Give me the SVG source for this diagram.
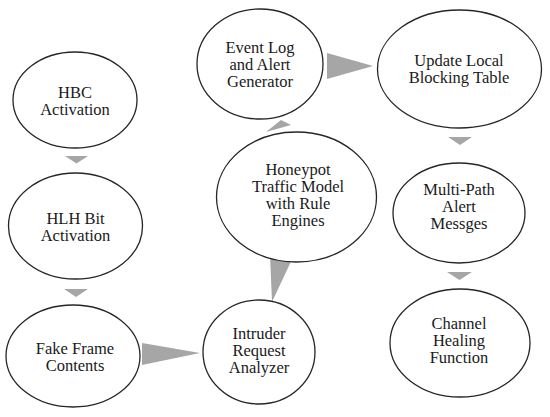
<svg xmlns="http://www.w3.org/2000/svg" width="550" height="417" viewBox="0 0 550 417">
<style>
.n{fill:#fff;stroke:#262626;stroke-width:1.3}
.a{fill:#a6a6a6;stroke:none}
.t{font-family:'Liberation Serif','DejaVu Serif',serif;font-size:16.5px;fill:#1a1a1a;text-anchor:middle}
</style>
<rect width="550" height="417" fill="#fff"/>
<g id="connectors">
<polygon class="a" points="65,156 88,156 76.5,163.5"/>
<polygon class="a" points="64,289 88,289 76,297"/>
<polygon class="a" points="142,343 142,365 200,353"/>
<polygon class="a" points="270,255 294,255 272,302"/>
<polygon class="a" points="266,132 281,120 291,125"/>
<polygon class="a" points="327,53 327,79 373,66"/>
<polygon class="a" points="448,137 472,137 460,145"/>
<polygon class="a" points="447,272 472,272 459.5,280"/>
</g>
<g id="hbc"><ellipse class="n" cx="75" cy="100" rx="62" ry="48"/><text class="t" font-family="Liberation Serif, serif"><tspan x="75" y="98">HBC</tspan><tspan x="75" y="115">Activation</tspan></text></g>
<g id="hlh"><ellipse class="n" cx="75.5" cy="226" rx="67" ry="53"/><text class="t"><tspan x="75.5" y="224">HLH Bit</tspan><tspan x="75.5" y="241">Activation</tspan></text></g>
<g id="fake"><ellipse class="n" cx="73" cy="356" rx="67" ry="51"/><text class="t"><tspan x="75" y="354">Fake Frame</tspan><tspan x="75" y="371">Contents</tspan></text></g>
<g id="intruder"><ellipse class="n" cx="259" cy="352" rx="56" ry="52"/><text class="t"><tspan x="259" y="339">Intruder</tspan><tspan x="259" y="356">Request</tspan><tspan x="259" y="373">Analyzer</tspan></text></g>
<g id="honeypot"><ellipse class="n" cx="296.5" cy="197" rx="80" ry="65"/><text class="t"><tspan x="298" y="175">Honeypot</tspan><tspan x="298" y="192">Traffic Model</tspan><tspan x="298" y="209">with Rule</tspan><tspan x="298" y="226">Engines</tspan></text></g>
<g id="eventlog"><ellipse class="n" cx="260" cy="64" rx="63" ry="55"/><text class="t"><tspan x="260" y="53">Event Log</tspan><tspan x="260" y="70">and Alert</tspan><tspan x="260" y="87">Generator</tspan></text></g>
<g id="update"><ellipse class="n" cx="459.5" cy="69" rx="82" ry="59"/><text class="t"><tspan x="459" y="66">Update Local</tspan><tspan x="459" y="83">Blocking Table</tspan></text></g>
<g id="multipath"><ellipse class="n" cx="459" cy="213" rx="66" ry="50"/><text class="t"><tspan x="459" y="195">Multi-Path</tspan><tspan x="459" y="212">Alert</tspan><tspan x="459" y="229">Messges</tspan></text></g>
<g id="channel"><ellipse class="n" cx="460" cy="343" rx="70" ry="54"/><text class="t"><tspan x="459" y="329">Channel</tspan><tspan x="459" y="346">Healing</tspan><tspan x="459" y="363">Function</tspan></text></g>
</svg>
